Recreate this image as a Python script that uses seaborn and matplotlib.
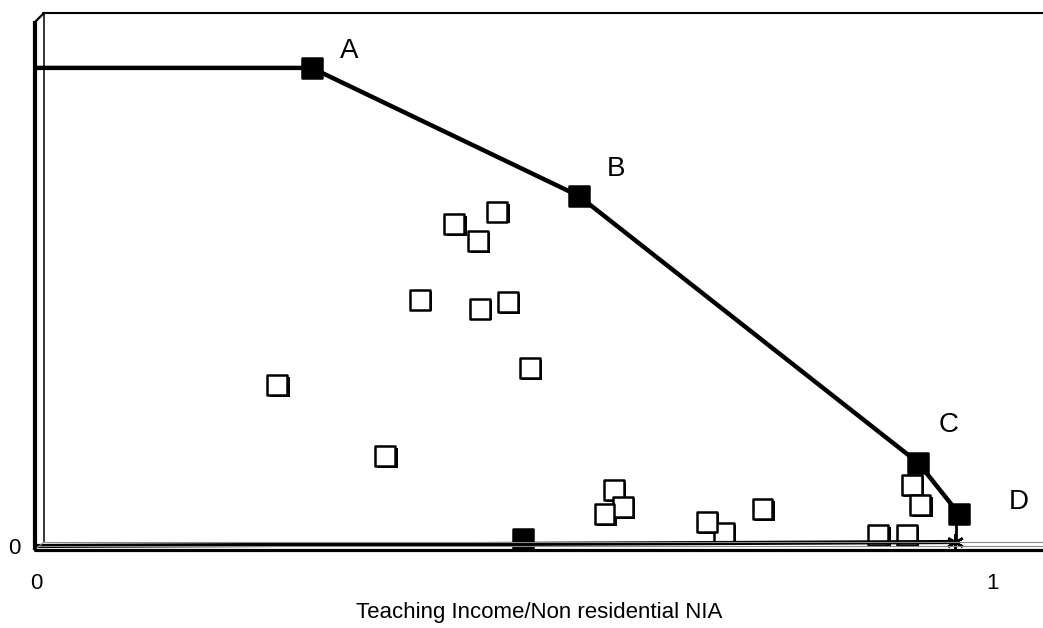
import matplotlib
matplotlib.use("Agg")
import matplotlib.pyplot as plt
import matplotlib.patheffects as pe
from matplotlib.lines import Line2D
import seaborn as sns

# ---------------- data ----------------
frontier_labels = ["A", "B", "C", "D"]
frontier_x = [0.288, 0.567, 0.922, 0.9645]
frontier_y = [0.897, 0.657, 0.156, 0.060]

lead_x = [0.0]          # horizontal lead-in from the y axis to A
lead_y = [0.897]

drop_x = [0.961, 0.961]  # vertical drop from D to the axis point
drop_y = [0.060, 0.0075]

base_x = [0.0, 0.509, 0.960]
base_y = [0.0, 0.004, 0.0075]
base_marker_x = [0.509]
base_marker_y = [0.013]
star_x = [0.960]
star_y = [0.0075]

unit_x = [0.252, 0.365, 0.401, 0.437, 0.462, 0.482, 0.464, 0.493, 0.516,
          0.604, 0.613, 0.594, 0.719, 0.701, 0.759, 0.880, 0.910, 0.915, 0.924]
unit_y = [0.302, 0.169, 0.462, 0.604, 0.572, 0.627, 0.445, 0.458, 0.334,
          0.105, 0.073, 0.060, 0.024, 0.045, 0.069, 0.021, 0.021, 0.114, 0.077]

x_ticks = [0, 1]
y_ticks = [0]
x_label = "Teaching Income/Non residential NIA"

# ---------------- style ----------------
sns.set_theme(style="white")
plt.rcParams["font.family"] = ["Liberation Sans", "DejaVu Sans"]

W, H = 1043, 628
fig = plt.figure(figsize=(W / 100, H / 100), dpi=100)
ax = fig.add_axes([36 / W, 1 - 549 / H, 1007 / W, 536 / H])
ax.set_facecolor("white")
for s in ax.spines.values():
    s.set_visible(False)

ax.set_xlim(0, 1007 / 957)
ax.set_ylim(-3 / 533, 1.0)

# ---------------- frame (pseudo 3-D walls) ----------------
def px_line(xs, ys, **kw):
    fig.add_artist(Line2D([x / W for x in xs], [1 - y / H for y in ys],
                          transform=fig.transFigure, **kw))

px_line([35, 35], [21, 550], color="black", lw=3.0, solid_capstyle="butt")
px_line([35, 44], [22, 13], color="black", lw=1.6)
px_line([44, 44], [13, 542], color="black", lw=1.1)
px_line([43, W], [13, 13], color="black", lw=1.5)
px_line([44, W], [542, 542], color="#8a8a8a", lw=0.8)
px_line([37, W], [545.5, 545.5], color="#8a8a8a", lw=0.8)
px_line([37, 44], [548, 542], color="#8a8a8a", lw=0.8)
px_line([35, W], [550, 550], color="black", lw=2.3)

# ---------------- marks ----------------
# open squares (inefficient units) with a drop shadow
sns.scatterplot(x=unit_x, y=unit_y, marker="s", s=14.2 ** 2,
                facecolor="white", edgecolor="black", linewidth=1.8,
                ax=ax, zorder=2, legend=False)
ax.collections[-1].set_joinstyle("round")
ax.collections[-1].set_path_effects([
    pe.SimplePatchShadow(offset=(1.8, -1.3), shadow_rgbFace="black", alpha=1.0),
    pe.Normal()])

# frontier line
sns.lineplot(x=lead_x + frontier_x, y=lead_y + frontier_y, sort=False,
             estimator=None, color="black", linewidth=3.2, ax=ax, zorder=3)
sns.lineplot(x=drop_x, y=drop_y, sort=False, estimator=None,
             color="black", linewidth=2.0, ax=ax, zorder=3)
sns.lineplot(x=base_x, y=base_y, sort=False, estimator=None,
             color="black", linewidth=3.0, ax=ax, zorder=3)

# filled squares (efficient units)
sns.scatterplot(x=frontier_x + base_marker_x, y=frontier_y + base_marker_y,
                marker="s", s=15.0 ** 2, color="black", edgecolor="black",
                linewidth=1.8, ax=ax, zorder=4, legend=False)
ax.collections[-1].set_joinstyle("round")

# star marker at the axis
ax.plot(star_x, star_y, marker=(6, 2, 0), ms=12, mew=1.8, color="black",
        linestyle="none", zorder=5, clip_on=False)

# labels A-D
offsets = [(27, 12), (27, 19), (22, 27), (43, 9)]
for lab, x, y, off in zip(frontier_labels, frontier_x, frontier_y, offsets):
    ax.annotate(lab, (x, y), xytext=off, textcoords="offset points",
                ha="center", va="center", fontsize=20, color="black")

# ---------------- ticks and labels ----------------
ax.set_xticks(x_ticks)
ax.set_xticklabels([str(t) for t in x_ticks])
ax.set_yticks(y_ticks)
ax.set_yticklabels([str(t) for t in y_ticks])
ax.tick_params(axis="x", length=0, pad=17, labelsize=16, colors="black")
ax.tick_params(axis="y", length=0, pad=11, labelsize=16, colors="black")
ax.grid(False)

ax.set_xlabel(x_label, fontsize=16, color="black")
ax.xaxis.set_label_coords(0.5, -0.098)
ax.xaxis.label.set_va("top")

fig.savefig("out.png", dpi=100, facecolor="white")
